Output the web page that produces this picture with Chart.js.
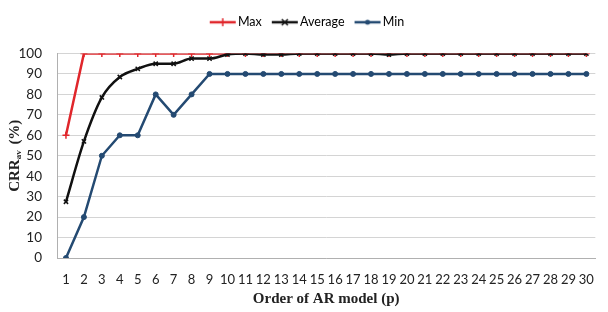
<!DOCTYPE html>
<html>
<head>
<meta charset="utf-8">
<script src="https://cdn.jsdelivr.net/npm/chart.js@4.4.1/dist/chart.umd.min.js"></script>
<style>
  html, body { margin: 0; padding: 0; background: #fff; }
  #wrap { width: 608px; height: 312px; }
</style>
</head>
<body>
<div id="wrap"><canvas id="c" width="608" height="312"></canvas></div>
<script>
// data
const orders = ['1','2','3','4','5','6','7','8','9','10','11','12','13','14','15','16','17','18','19','20','21','22','23','24','25','26','27','28','29','30'];
const maxVals = [60,100,100,100,100,100,100,100,100,100,100,100,100,100,100,100,100,100,100,100,100,100,100,100,100,100,100,100,100,100];
const avgVals = [27.5,57,78.5,88.5,92.5,95,95,97.5,97.5,99.5,100,99.5,99.5,100,100,100,100,100,99.5,100,100,100,100,100,100,100,100,100,100,100];
const minVals = [0,20,50,60,60,80,70,80,90,90,90,90,90,90,90,90,90,90,90,90,90,90,90,90,90,90,90,90,90,90];

const RED = '#e0262b';
const BLACK = '#111111';
const BLUE = '#244a72';

// little line+marker picture for the legend, like Excel's
// (line sits on the right of the canvas so it ends close to the text)
function legendIcon(color, style) {
  const cv = document.createElement('canvas');
  cv.width = 34; cv.height = 10;
  const g = cv.getContext('2d');
  g.strokeStyle = color; g.fillStyle = color; g.lineWidth = 2.5;
  g.beginPath(); g.moveTo(6, 5); g.lineTo(32, 5); g.stroke();
  g.lineWidth = 1.5;
  if (style === 'cross') {
    g.beginPath(); g.moveTo(19, 1); g.lineTo(19, 9); g.stroke();
  } else if (style === 'crossRot') {
    g.beginPath(); g.moveTo(16, 2); g.lineTo(22, 8); g.moveTo(22, 2); g.lineTo(16, 8); g.stroke();
  } else {
    g.beginPath(); g.arc(19, 5, 2.5, 0, Math.PI * 2); g.fill();
  }
  return cv;
}

// y title with subscript "av"
const yTitle = {
  id: 'yTitle',
  afterDraw(chart) {
    const ctx = chart.ctx;
    const area = chart.chartArea;
    const big = 'bold 15px "Liberation Serif", serif';
    const small = 'bold 9px "Liberation Serif", serif';
    ctx.save();
    ctx.translate(15, (area.top + area.bottom) / 2);
    ctx.rotate(-Math.PI / 2);
    ctx.fillStyle = '#222';
    ctx.textBaseline = 'middle';
    const a = 'CRR', b = 'av', c = ' (%)';
    ctx.font = big;
    const wa = ctx.measureText(a).width, wc = ctx.measureText(c).width;
    ctx.font = small;
    const wb = ctx.measureText(b).width;
    let x = -(wa + wb + wc + 2) / 2;
    ctx.font = big;
    ctx.fillText(a, x, 0); x += wa;
    ctx.font = small;
    ctx.fillText(b, x, 4); x += wb;
    ctx.font = big;
    ctx.fillText(c, x + 2, 0);
    ctx.restore();
  }
};

// push the plot down below the legend
const legendGap = {
  id: 'legendGap',
  beforeInit(chart) {
    const fit = chart.legend.fit;
    chart.legend.fit = function () {
      fit.call(this);
      this.height += 15;
    };
  }
};

new Chart(document.getElementById('c'), {
  type: 'line',
  data: {
    labels: orders,
    datasets: [
      { label: 'Max', data: maxVals, borderColor: RED, backgroundColor: RED, borderWidth: 2.5, order: 1,
        pointStyle: 'cross', pointRadius: 3.5, pointBorderWidth: 1.5, tension: 0 },
      { label: 'Average', data: avgVals, borderColor: BLACK, backgroundColor: BLACK, borderWidth: 2.5, order: 0,
        pointStyle: 'crossRot', pointRadius: 3, pointBorderWidth: 1.5, cubicInterpolationMode: 'monotone' },
      { label: 'Min', data: minVals, borderColor: BLUE, backgroundColor: BLUE, borderWidth: 2.5, order: 2,
        pointStyle: 'circle', pointRadius: 2.5, pointBorderWidth: 1, tension: 0 }
    ]
  },
  options: {
    responsive: false,
    animation: false,
    devicePixelRatio: 1,
    layout: { padding: { left: 12, right: 6, top: 6, bottom: 4 } },
    plugins: {
      tooltip: { enabled: false },
      legend: {
        position: 'top',
        labels: {
          font: { family: 'Lato', size: 12.5 },
          color: '#444',
          usePointStyle: true,
          pointStyleWidth: 22,
          boxHeight: 10,
          padding: 10,
          generateLabels(chart) {
            const styles = ['cross', 'crossRot', 'circle'];
            return chart.data.datasets.map((ds, i) => ({
              text: ds.label, fillStyle: ds.borderColor, strokeStyle: ds.borderColor,
              pointStyle: legendIcon(ds.borderColor, styles[i]), datasetIndex: i, lineWidth: 0
            }));
          }
        }
      }
    },
    scales: {
      x: {
        offset: true,
        grid: { display: false, drawTicks: false },
        border: { color: '#b0b0b0' },
        ticks: { font: { family: 'Lato', size: 13 }, color: '#222', maxRotation: 0, autoSkip: false, padding: 14 },
        title: { display: true, text: 'Order of AR model (p)', font: { family: 'Liberation Serif', size: 15, weight: 'bold' }, color: '#222', padding: { top: 2, bottom: 0 } },
        afterFit(scale) { scale.height = 50; }
      },
      y: {
        min: 0, max: 100,
        grid: { color: '#d4d4d4', drawTicks: false },
        border: { color: '#b0b0b0' },
        ticks: { stepSize: 10, font: { family: 'Lato', size: 13.5 }, color: '#222', padding: 15 },
        afterFit(scale) { scale.width = 45; }
      }
    }
  },
  plugins: [yTitle, legendGap]
});
</script>
</body>
</html>
